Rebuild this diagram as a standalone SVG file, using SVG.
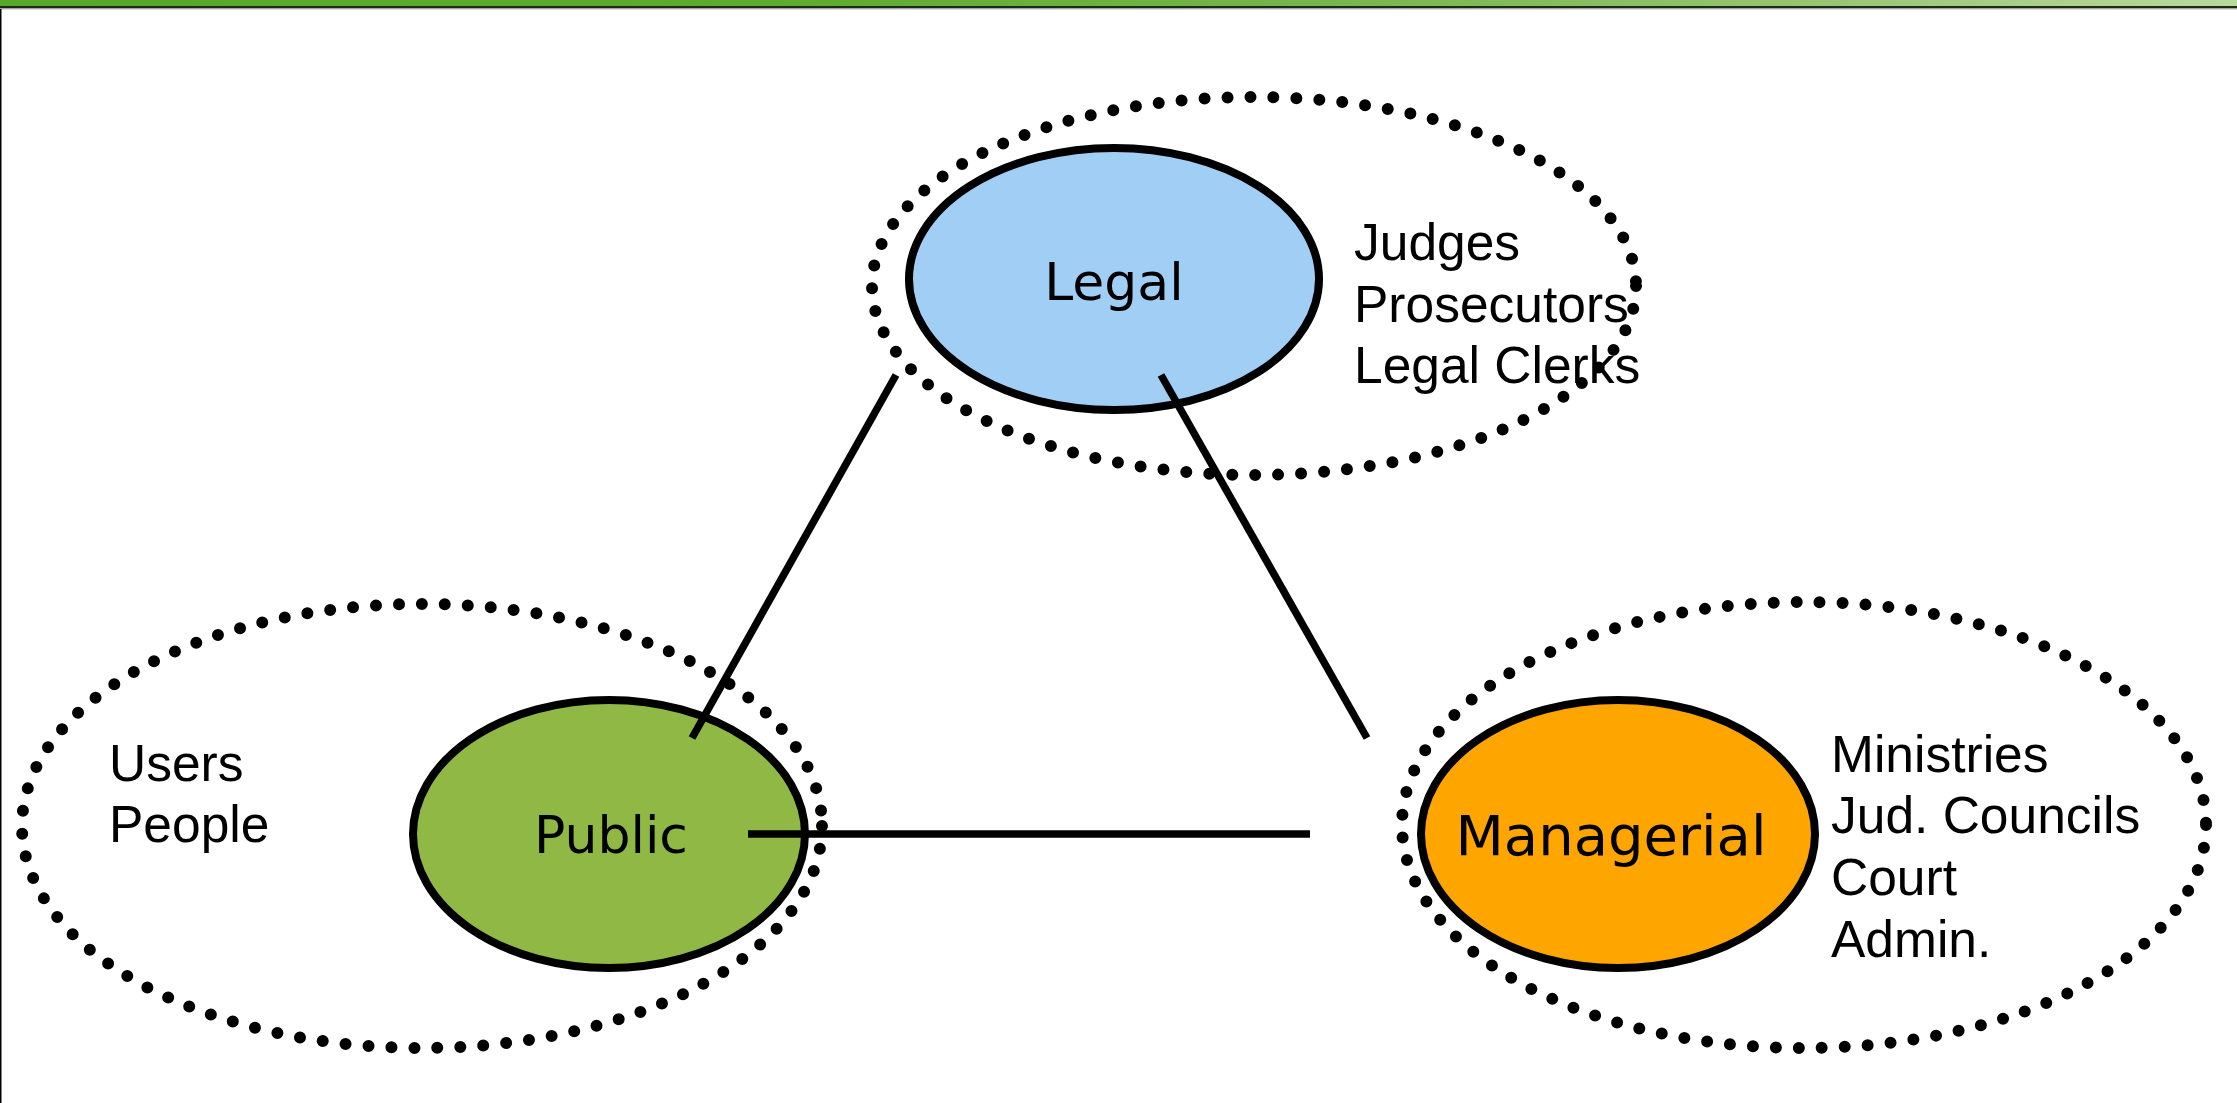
<svg xmlns="http://www.w3.org/2000/svg" width="2237" height="1103" viewBox="0 0 2237 1103">
  <defs>
    <linearGradient id="barGrad" x1="0" y1="0" x2="1" y2="0">
      <stop offset="0" stop-color="#55a82a"/>
      <stop offset="0.35" stop-color="#5dab2f"/>
      <stop offset="0.6" stop-color="#78b64e"/>
      <stop offset="0.8" stop-color="#95c470"/>
      <stop offset="1" stop-color="#bad99d"/>
    </linearGradient>
  </defs>
  <style>
    .group-ring { fill: none; stroke: #000; stroke-width: 12; stroke-linecap: round; stroke-dasharray: 0 23; }
    .core { stroke: #000; stroke-width: 8; }
    .core-label { font-family: "DejaVu Sans", Verdana, sans-serif; fill: #000; text-anchor: middle; }
    .members { font-family: "Liberation Sans", Arial, sans-serif; font-size: 51.5px; fill: #000; }
    .link { stroke: #000; stroke-width: 7.5; fill: none; }
  </style>

  <!-- page background and title bar -->
  <rect x="0" y="0" width="2237" height="1103" fill="#ffffff"/>
  <rect x="0" y="0" width="2237" height="6" fill="url(#barGrad)"/>
  <rect x="0" y="6" width="2237" height="2.5" fill="#1c2b14"/>
  <rect x="0" y="8.5" width="2237" height="1" fill="#b8b8b8"/>
  <rect x="0" y="9" width="1.5" height="1094" fill="#000"/>

  <!-- Legal -->
  <g id="node-legal">
    <ellipse class="group-ring" cx="1254" cy="286" rx="382" ry="189"/>
    <ellipse class="core" cx="1114" cy="279" rx="205" ry="131" fill="#a1cef4"/>
    <text class="core-label" x="1114" y="300" font-size="52">Legal</text>
    <text class="members" x="1354" y="260">Judges</text>
    <text class="members" x="1354" y="322">Prosecutors</text>
    <text class="members" x="1354" y="383">Legal Clerks</text>
  </g>

  <!-- Public -->
  <g id="node-public">
    <ellipse class="group-ring" cx="422" cy="826" rx="400" ry="222"/>
    <ellipse class="core" cx="609" cy="834" rx="196" ry="134" fill="#8fb944"/>
    <text class="core-label" x="611" y="853" font-size="52">Public</text>
    <text class="members" x="109" y="781">Users</text>
    <text class="members" x="109" y="842">People</text>
  </g>

  <!-- Managerial -->
  <g id="node-managerial">
    <ellipse class="group-ring" cx="1804" cy="825" rx="402" ry="223"/>
    <ellipse class="core" cx="1618" cy="834" rx="197" ry="134" fill="#ffa500"/>
    <text class="core-label" x="1611" y="855" font-size="56">Managerial</text>
    <text class="members" x="1831" y="772">Ministries</text>
    <text class="members" x="1831" y="833">Jud. Councils</text>
    <text class="members" x="1831" y="895">Court</text>
    <text class="members" x="1831" y="957">Admin.</text>
  </g>

  <!-- connectors -->
  <g id="connectors">
    <line class="link" x1="896" y1="375" x2="692" y2="738"/>
    <line class="link" x1="1161" y1="375" x2="1367" y2="738"/>
    <line class="link" x1="748" y1="834" x2="1310" y2="834"/>
  </g>
</svg>
